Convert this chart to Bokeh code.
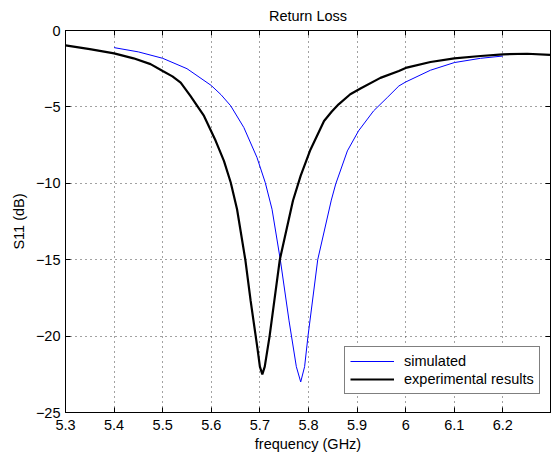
from bokeh.plotting import figure
from bokeh.models import LinearAxis, FixedTicker, Range1d, Legend, LegendItem
from bokeh.embed import file_html
from bokeh.resources import INLINE

# Experimental results (black)
exp_f = [5.30, 5.35, 5.40, 5.44, 5.475, 5.50, 5.52, 5.537, 5.557, 5.585, 5.609, 5.626, 5.64,
         5.653, 5.67, 5.681, 5.695, 5.700, 5.705, 5.710, 5.715, 5.720, 5.741, 5.768,
         5.784, 5.804, 5.832, 5.848, 5.862, 5.886, 5.907, 5.948, 5.986, 6.0, 6.051,
         6.1, 6.154, 6.2, 6.25, 6.297]
exp_db = [-0.97, -1.22, -1.50, -1.82, -2.2, -2.65, -3.0, -3.41, -4.28, -5.59, -7.22, -8.53, -9.95,
          -11.7, -15.0, -17.7, -20.8, -22.0, -22.5, -22.0, -21.0, -20.0, -15.0, -11.14,
          -9.5, -7.8, -5.92, -5.3, -4.83, -4.17, -3.8, -3.1, -2.65, -2.45, -2.06,
          -1.82, -1.67, -1.56, -1.52, -1.6]

# Simulated (blue)
sim_f = [5.40, 5.45, 5.50, 5.55, 5.60, 5.62, 5.64, 5.667, 5.694, 5.711, 5.725, 5.742, 5.76,
         5.775, 5.784, 5.792, 5.799, 5.819, 5.847, 5.856, 5.88, 5.903, 5.934, 5.962,
         5.986, 6.0, 6.051, 6.1, 6.154, 6.2]
sim_db = [-1.12, -1.4, -1.82, -2.5, -3.6, -4.2, -4.93, -6.35, -8.31, -9.95, -11.7, -15.0, -19.0,
          -22.0, -23.0, -22.0, -20.0, -15.0, -11.1, -10.05, -7.88, -6.57, -5.26, -4.39,
          -3.63, -3.37, -2.6, -2.1, -1.82, -1.67]

x_ticks = [5.3, 5.4, 5.5, 5.6, 5.7, 5.8, 5.9, 6.0, 6.1, 6.2]
x_labels = ["5.3", "5.4", "5.5", "5.6", "5.7", "5.8", "5.9", "6", "6.1", "6.2"]
y_ticks = [-25, -20, -15, -10, -5, 0]
y_labels = ["\u221225", "\u221220", "\u221215", "\u221210", "\u22125", "0"]

FONT = "Liberation Sans"
FS = "14.5px"

p = figure(frame_width=485, frame_height=382, output_backend="svg", toolbar_location=None,
           x_range=Range1d(5.3, 6.298), y_range=Range1d(-25, 0),
           title="Return Loss",
           min_border_left=65, min_border_right=1, min_border_top=30, min_border_bottom=0)
p.background_fill_color = "white"
p.border_fill_color = "white"
p.outline_line_color = "black"
p.outline_line_width = 1

p.title.align = "center"
p.title.vertical_align = "top"
p.title.text_font = FONT
p.title.text_font_style = "normal"
p.title.text_font_size = FS
p.title.text_color = "black"
p.title.standoff = 10

l_sim = p.line(sim_f, sim_db, line_color="#0000ff", line_width=1)
l_exp = p.line(exp_f, exp_db, line_color="black", line_width=2.2)

for ax in (p.xaxis[0], p.yaxis[0]):
    ax.major_tick_in = 5
    ax.major_tick_out = 0
    ax.minor_tick_line_color = None
    ax.axis_line_color = "black"
    ax.major_tick_line_color = "black"
    ax.major_label_text_font = FONT
    ax.major_label_text_font_size = FS
    ax.major_label_text_color = "black"
    ax.axis_label_text_font = FONT
    ax.axis_label_text_font_size = FS
    ax.axis_label_text_font_style = "normal"
    ax.axis_label_text_color = "black"

p.xaxis[0].ticker = FixedTicker(ticks=x_ticks)
p.xaxis[0].major_label_overrides = {t: l for t, l in zip(x_ticks, x_labels)}
p.xaxis[0].axis_label = "frequency (GHz)"
p.xaxis[0].major_label_standoff = 7
p.xaxis[0].axis_label_standoff = 3
p.yaxis[0].ticker = FixedTicker(ticks=y_ticks)
p.yaxis[0].major_label_overrides = {t: l for t, l in zip(y_ticks, y_labels)}
p.yaxis[0].axis_label = "S11 (dB)"
p.yaxis[0].major_label_standoff = 5
p.yaxis[0].axis_label_standoff = 6

top = LinearAxis(ticker=FixedTicker(ticks=x_ticks), major_tick_in=5, major_tick_out=0,
                 major_label_overrides={t: "" for t in x_ticks}, minor_tick_line_color=None,
                 axis_line_color="black", major_label_standoff=0)
right = LinearAxis(ticker=FixedTicker(ticks=y_ticks), major_tick_in=5, major_tick_out=0,
                   major_label_overrides={t: "" for t in y_ticks}, minor_tick_line_color=None,
                   axis_line_color="black", major_label_standoff=0)
p.add_layout(top, "above")
p.add_layout(right, "right")

p.xgrid.ticker = FixedTicker(ticks=x_ticks)
p.ygrid.ticker = FixedTicker(ticks=y_ticks)
for g in (p.xgrid[0], p.ygrid[0]):
    g.grid_line_color = "#444444"
    g.grid_line_dash = "1 4"
    g.grid_line_width = 1

legend = Legend(items=[LegendItem(label="simulated", renderers=[l_sim]),
                       LegendItem(label="experimental results", renderers=[l_exp])],
                location=(279, 18))
legend.label_text_font = FONT
legend.label_text_font_size = FS
legend.label_text_color = "black"
legend.border_line_color = "black"
legend.border_line_width = 1
legend.glyph_width = 44
legend.glyph_height = 18
legend.label_height = 18
legend.label_standoff = 10
legend.padding = 5
legend.spacing = 0
legend.margin = 0
legend.background_fill_alpha = 1
p.add_layout(legend)

open("out.html", "w").write(file_html(p, INLINE))
